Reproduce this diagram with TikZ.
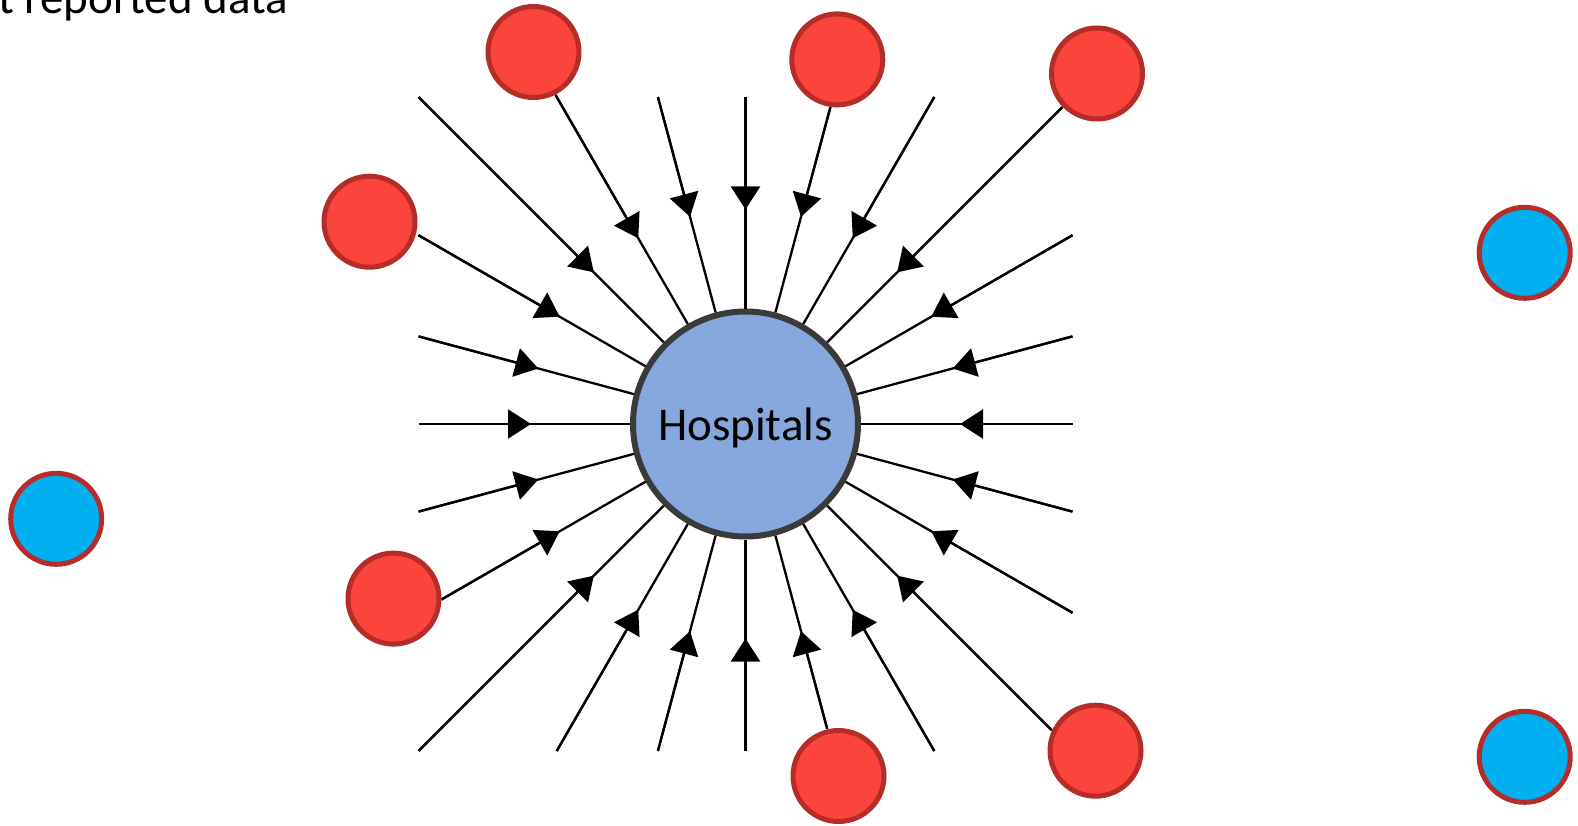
\documentclass[tikz,border=0pt]{standalone}
\usepackage{fontspec}
\setmainfont{Carlito}
\usetikzlibrary{arrows.meta,calc}
\definecolor{redfill}{HTML}{FA443C}
\definecolor{redborder}{HTML}{B52C28}
\definecolor{bluefill}{HTML}{00B0F0}
\definecolor{hubfill}{HTML}{87A8DC}
\definecolor{hubborder}{HTML}{3A3A3A}
\tikzset{
  hubnode/.style={circle, draw=hubborder, fill=hubfill, line width=6pt,
    minimum size=225pt, inner sep=0pt, text height=32pt, text depth=0pt,
    font=\fontsize{47}{50}\selectfont},
  rednode/.style={circle, draw=redborder, fill=redfill, line width=5pt,
    minimum size=91pt, inner sep=0pt},
  bluenode/.style={circle, draw=redborder, fill=bluefill, line width=5pt,
    minimum size=91pt, inner sep=0pt},
  spoke/.style={draw=black, line width=2.3pt},
  spokearrow/.style={spoke, -{Triangle[length=23pt,width=29pt]}},
  titletext/.style={anchor=base east, inner sep=0pt, font=\fontsize{47}{50}\selectfont}
}
\begin{document}
\begin{tikzpicture}[x=1pt,y=-1pt]
\useasboundingbox (0,0) rectangle (1578,826);
\node[titletext] (title) at (288,14) {t reported data};
\node[hubnode] (hub) at (745.5,424) {Hospitals};
\foreach \a/\l [count=\i] in {0/327,15/338.5,30/377.6,45/433,60/377.6,75/315.5,
  90/327,105/338.5,120/377.6,135/462.4,150/351,165/338.5,180/327,195/338.5,
  210/377.6,225/462.4,240/380,255/338.5,270/327,285/328,300/377.6,315/448,
  330/377.6,345/338.5} {
  \coordinate (e\i) at ($(hub.center)+(\a:\l)$);
  \draw[spoke] (e\i) -- (hub);
  \draw[spokearrow] (e\i) -- ($(hub.center)!214.5pt!(e\i)$);
}
\node[rednode] (r1) at (533.5,52) {};
\node[rednode] (r2) at (837.3,59.4) {};
\node[rednode] (r3) at (1097,73.5) {};
\node[rednode] (r4) at (369.5,221.7) {};
\node[rednode] (r5) at (393.5,598.6) {};
\node[rednode] (r6) at (838.5,776) {};
\node[rednode] (r7) at (1095.5,750.7) {};
\node[bluenode] (b1) at (56.2,518.8) {};
\node[bluenode] (b2) at (1524.7,252.8) {};
\node[bluenode] (b3) at (1524.7,756.8) {};
\end{tikzpicture}
\end{document}
